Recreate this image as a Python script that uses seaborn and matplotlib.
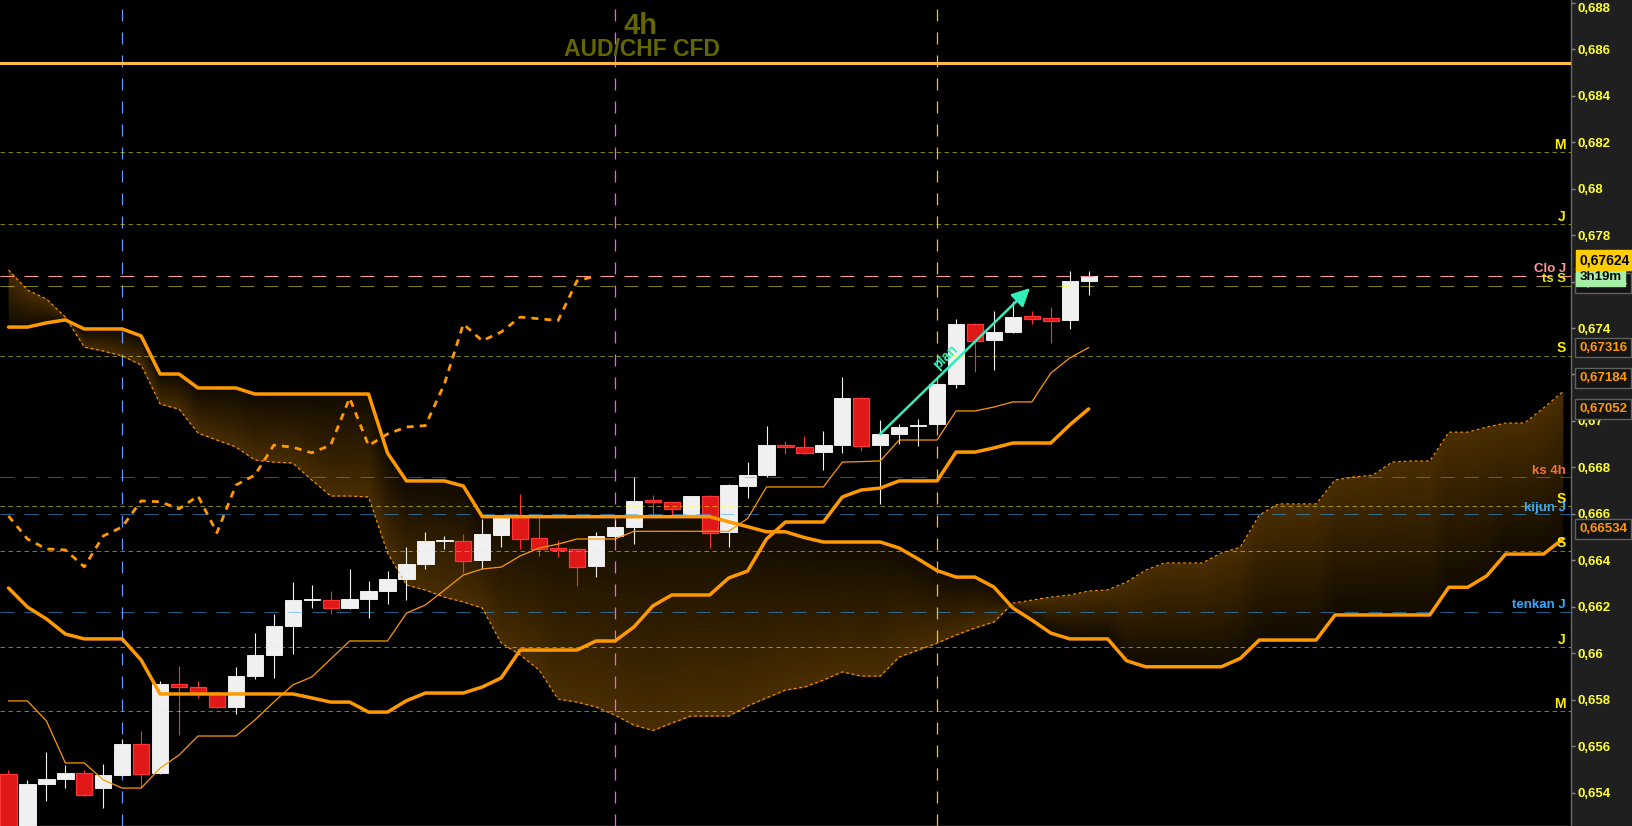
import numpy as np
import pandas as pd
import seaborn as sns
import matplotlib.pyplot as plt
import matplotlib.transforms as mtransforms

# 4h AUD/CHF candles, oldest first
opens = [0.65480, 0.65250, 0.65439, 0.65459, 0.65485, 0.65422, 0.65476, 0.65610, 0.65486, 0.65868,
         0.65855, 0.65830, 0.65770, 0.65902, 0.65993, 0.66117, 0.66229, 0.66229, 0.66196, 0.66234,
         0.66268, 0.66320, 0.66384, 0.66484, 0.66484, 0.66402, 0.66509, 0.66587, 0.66496, 0.66453,
         0.66449, 0.66376, 0.66505, 0.66544, 0.66660, 0.66651, 0.66600, 0.66677, 0.66523, 0.66720,
         0.66767, 0.66896, 0.66888, 0.66866, 0.66896, 0.67099, 0.66896, 0.66944, 0.66978, 0.66987,
         0.67159, 0.67417, 0.67348, 0.67383, 0.67452, 0.67443, 0.67435, 0.67603]
highs = [0.65498, 0.65455, 0.65575, 0.65519, 0.65498, 0.65524, 0.65631, 0.65666, 0.65881, 0.65945,
         0.65881, 0.65838, 0.65941, 0.66088, 0.66169, 0.66307, 0.66294, 0.66268, 0.66363, 0.66311,
         0.66354, 0.66458, 0.66523, 0.66505, 0.66514, 0.66578, 0.66591, 0.66686, 0.66587, 0.66488,
         0.66449, 0.66523, 0.66574, 0.66759, 0.66681, 0.66651, 0.66677, 0.66681, 0.66729, 0.66823,
         0.66978, 0.66914, 0.66935, 0.66957, 0.67189, 0.67103, 0.67004, 0.66987, 0.67008, 0.67159,
         0.67439, 0.67422, 0.67473, 0.67516, 0.67473, 0.67490, 0.67646, 0.67646]
lows = [0.65220, 0.65230, 0.65366, 0.65422, 0.65387, 0.65335, 0.65472, 0.65420, 0.65482, 0.65648,
        0.65809, 0.65765, 0.65740, 0.65889, 0.65894, 0.65997, 0.66195, 0.66169, 0.66191, 0.66152,
        0.66212, 0.66229, 0.66363, 0.66449, 0.66346, 0.66363, 0.66458, 0.66449, 0.66419, 0.66415,
        0.66290, 0.66329, 0.66488, 0.66471, 0.66600, 0.66596, 0.66596, 0.66455, 0.66459, 0.66668,
        0.66759, 0.66858, 0.66859, 0.66789, 0.66862, 0.66871, 0.66643, 0.66901, 0.66892, 0.66983,
        0.67142, 0.67211, 0.67220, 0.67378, 0.67417, 0.67337, 0.67396, 0.67543]
closes = [0.65240, 0.65437, 0.65459, 0.65485, 0.65391, 0.65476, 0.65610, 0.65482, 0.65868, 0.65855,
          0.65830, 0.65768, 0.65902, 0.65993, 0.66117, 0.66229, 0.66231, 0.66196, 0.66234, 0.66268,
          0.66320, 0.66384, 0.66484, 0.66486, 0.66399, 0.66514, 0.66591, 0.66492, 0.66449, 0.66445,
          0.66372, 0.66505, 0.66544, 0.66656, 0.66652, 0.66622, 0.66677, 0.66519, 0.66724, 0.66767,
          0.66896, 0.66887, 0.66863, 0.66896, 0.67099, 0.66894, 0.66944, 0.66974, 0.66980, 0.67159,
          0.67417, 0.67345, 0.67383, 0.67447, 0.67440, 0.67432, 0.67603, 0.67624]

# ichimoku lines
tenkan = [0.65795, 0.65795, 0.65709, 0.65528, 0.65528, 0.65455, 0.65420, 0.65420, 0.65506, 0.65562,
          0.65644, 0.65644, 0.65644, 0.65713, 0.65790, 0.65864, 0.65898, 0.65975, 0.66053, 0.66053,
          0.66053, 0.66173, 0.66208, 0.66272, 0.66337, 0.66363, 0.66371, 0.66419, 0.66453, 0.66470,
          0.66492, 0.66492, 0.66492, 0.66525, 0.66525, 0.66525, 0.66525, 0.66525, 0.66525, 0.66580,
          0.66716, 0.66716, 0.66716, 0.66716, 0.66823, 0.66825, 0.66828, 0.66918, 0.66918, 0.66918,
          0.67043, 0.67043, 0.67060, 0.67082, 0.67082, 0.67206, 0.67271, 0.67316]
kijun = [0.66281, 0.66199, 0.66148, 0.66083, 0.66062, 0.66062, 0.66062, 0.65971, 0.65825, 0.65825,
         0.65825, 0.65825, 0.65825, 0.65825, 0.65825, 0.65825, 0.65808, 0.65790, 0.65790, 0.65747,
         0.65747, 0.65796, 0.65829, 0.65829, 0.65829, 0.65855, 0.65894, 0.66014, 0.66014, 0.66014,
         0.66014, 0.66053, 0.66053, 0.66113, 0.66204, 0.66251, 0.66251, 0.66251, 0.66324, 0.66354,
         0.66492, 0.66565, 0.66565, 0.66565, 0.66673, 0.66703, 0.66711, 0.66742, 0.66742, 0.66742,
         0.66866, 0.66866, 0.66884, 0.66905, 0.66905, 0.66905, 0.66983, 0.67052]
# cloud spans, already projected forward
senkou_a = [0.67650, 0.67564, 0.67525, 0.67447, 0.67318, 0.67301, 0.67280, 0.67241, 0.67073, 0.67051,
            0.66948, 0.66918, 0.66888, 0.66832, 0.66823, 0.66819, 0.66746, 0.66677, 0.66677, 0.66673,
            0.66432, 0.66294, 0.66272, 0.66242, 0.66221, 0.66195, 0.66044, 0.65993, 0.65928, 0.65803,
            0.65790, 0.65769, 0.65734, 0.65691, 0.65668, 0.65700, 0.65730, 0.65730, 0.65730, 0.65773,
            0.65808, 0.65842, 0.65855, 0.65885, 0.65920, 0.65902, 0.65902, 0.65984, 0.66014, 0.66044,
            0.66079, 0.66109, 0.66135, 0.66216, 0.66229, 0.66242, 0.66251, 0.66268, 0.66273, 0.66307,
            0.66358, 0.66389, 0.66389, 0.66389, 0.66432, 0.66457, 0.66595, 0.66643, 0.66643, 0.66643,
            0.66746, 0.66759, 0.66767, 0.66823, 0.66828, 0.66828, 0.66952, 0.66952, 0.66974, 0.66991,
            0.66991, 0.67056, 0.67125]
senkou_b = [0.67404, 0.67404, 0.67422, 0.67435, 0.67396, 0.67396, 0.67396, 0.67366, 0.67202, 0.67202,
            0.67142, 0.67142, 0.67142, 0.67116, 0.67116, 0.67116, 0.67116, 0.67116, 0.67116, 0.67116,
            0.66862, 0.66742, 0.66742, 0.66742, 0.66720, 0.66588, 0.66588, 0.66588, 0.66588, 0.66588,
            0.66588, 0.66588, 0.66588, 0.66588, 0.66588, 0.66588, 0.66588, 0.66588, 0.66566, 0.66545,
            0.66523, 0.66523, 0.66498, 0.66479, 0.66479, 0.66479, 0.66479, 0.66453, 0.66406, 0.66356,
            0.66328, 0.66328, 0.66285, 0.66195, 0.66143, 0.66087, 0.66062, 0.66062, 0.66062, 0.65968,
            0.65942, 0.65942, 0.65942, 0.65942, 0.65942, 0.65978, 0.66057, 0.66057, 0.66057, 0.66057,
            0.66165, 0.66165, 0.66165, 0.66165, 0.66165, 0.66165, 0.66284, 0.66284, 0.66333, 0.66427,
            0.66427, 0.66427, 0.66491]
chikou_shift = 26

# pivot levels and reference lines
pivot_levels = [0.68156, 0.67846, 0.67280, 0.66633, 0.66440, 0.66026, 0.65750]
pivot_names = ['M', 'J', 'S', 'S', 'S', 'J', 'M']
ref_levels = [0.67624, 0.67581, 0.66757, 0.66598, 0.66178]
ref_names = ['Clo J', 'ts S', 'ks 4h', 'kijun J', 'tenkan J']
ref_line_colors = ['#ff9999', '#ffff00', '#ff7040', '#33aaff', '#33aaff']
ref_line_alpha = [1.0, 0.5, 0.5, 0.55, 0.55]
ref_text_colors = ['#ff9999', '#e6e600', '#f07040', '#33aaff', '#33aaff']
top_level = 0.68540

side_values = [0.67316, 0.67184, 0.67052, 0.66534]
last_price = 0.67624
time_left = '3h19m'
event_bars = [6, 32, 49]
event_colors = ['#6699ff', '#ff55ff', '#ffbb22']
plan_x = [46, 53.9]
plan_y = [0.66944, 0.67572]

ytick_values = np.round(np.arange(0.654, 0.6881, 0.002), 3)

sns.set_theme(style='dark', rc={'axes.facecolor': 'black', 'figure.facecolor': '#1f1f1f',
                                'axes.grid': False})
plt.rcParams['font.family'] = ['Liberation Sans', 'DejaVu Sans']

orange = '#ff9900'
fig = plt.figure(figsize=(16.33, 8.26), dpi=100)
ax = fig.add_axes([0, 0, 1571 / 1633, 1])

candles = pd.DataFrame({'o': opens, 'h': highs, 'l': lows, 'c': closes})
candles['bar'] = np.arange(len(candles))
up = candles['c'] >= candles['o']

# cloud with a gradient from span A (bright) to span B (dark)
xc = np.arange(len(senkou_a))
a = np.array(senkou_a)
b = np.array(senkou_b)
bright = np.array([0.29, 0.18, 0.0])
dark = np.array([0.07, 0.045, 0.0])
n = 40
for k in range(n):
    lo = a + (b - a) * k / n
    hi = a + (b - a) * (k + 1) / n
    t = (k + 0.5) / n
    col = bright * (1 - t) + dark * t
    ax.fill_between(xc, lo, hi, color=col, lw=0.5, ec=col, zorder=1)

# event verticals
for xb, col in zip(event_bars, event_colors):
    ln = ax.axvline(xb, color=col, lw=0.9, zorder=2)
    ln.set_dashes((9.6, 8.8))

# candles
wick_cols = np.where(up, '#f2f2f2', '#ff3030')
ax.vlines(candles['bar'], candles['l'], candles['h'], colors=wick_cols, lw=0.8, zorder=3)
body_lo = np.minimum(candles['o'], candles['c'])
body_h = np.maximum((candles['c'] - candles['o']).abs(), 0.00005)
ax.bar(candles['bar'][up], body_h[up], bottom=body_lo[up], width=0.86,
       color='#f0f0f0', edgecolor='#ffffff', lw=0.6, zorder=4)
ax.bar(candles['bar'][~up], body_h[~up], bottom=body_lo[~up], width=0.86,
       color='#e01818', edgecolor='#ff3535', lw=0.9, zorder=4)

# horizontal levels
ax.axhline(top_level, color='#ffbb44', lw=2.2, zorder=5)
for v in pivot_levels:
    ln = ax.axhline(v, color='#ffff00', alpha=0.5, lw=0.72, zorder=5)
    ln.set_dashes((4.5, 3.5))
for v, lc, la in zip(ref_levels, ref_line_colors, ref_line_alpha):
    ln = ax.axhline(v, color=lc, alpha=la, lw=0.72, zorder=5)
    ln.set_dashes((14, 10))

# ichimoku lines
cloud = pd.DataFrame({'bar': xc, 'span_a': senkou_a, 'span_b': senkou_b})
lines = pd.DataFrame({'bar': candles['bar'], 'tenkan': tenkan, 'kijun': kijun})
chikou = pd.DataFrame({'bar': np.arange(len(closes) - chikou_shift),
                       'lag': closes[chikou_shift:]})

sns.lineplot(data=cloud, x='bar', y='span_a', ax=ax, color=orange, lw=0.8, estimator=None, zorder=6)
ax.lines[-1].set_dashes((2.5, 2.5))
sns.lineplot(data=cloud, x='bar', y='span_b', ax=ax, color=orange, lw=2.5, estimator=None, zorder=6)
sns.lineplot(data=lines, x='bar', y='tenkan', ax=ax, color=orange, lw=0.9, estimator=None, zorder=6)
sns.lineplot(data=lines, x='bar', y='kijun', ax=ax, color=orange, lw=2.5, estimator=None, zorder=6)
sns.lineplot(data=chikou, x='bar', y='lag', ax=ax, color=orange, lw=2.0, estimator=None, zorder=6)
ax.lines[-1].set_dashes((2.5, 2.2))

ax.set_xlim(-0.4485, 82.45)
ax.set_ylim(0.652567, 0.688118)
ax.set_xlabel('')
ax.set_ylabel('')

# plan arrow
ax.annotate('', xy=(plan_x[1], plan_y[1]), xytext=(plan_x[0], plan_y[0]),
            arrowprops=dict(arrowstyle='-|>,head_length=0.9,head_width=0.45', color='#33eebb',
                            lw=1.8, mutation_scale=12, shrinkA=0, shrinkB=0), zorder=8)
p0 = ax.transData.transform((plan_x[0], plan_y[0]))
p1 = ax.transData.transform((plan_x[1], plan_y[1]))
ang = np.degrees(np.arctan2(p1[1] - p0[1], p1[0] - p0[0]))
ax.annotate('plan', xy=(np.mean(plan_x), np.mean(plan_y)), xytext=(-7, 3),
            textcoords='offset points', rotation=ang, rotation_mode='anchor',
            ha='center', va='center', color='#33eebb', fontsize=10, fontweight='bold', zorder=8)

# level labels
trans = mtransforms.blended_transform_factory(ax.transAxes, ax.transData)
for v, name in zip(pivot_levels, pivot_names):
    ax.annotate(name, xy=(0.9966, v), xycoords=trans, xytext=(0, 0.5), textcoords='offset points',
                ha='right', va='bottom', color='#ffee00', fontsize=10, fontweight='bold', zorder=9)
for v, name, tc in zip(ref_levels, ref_names, ref_text_colors):
    ax.annotate(name, xy=(0.9966, v), xycoords=trans, xytext=(0, 0.5), textcoords='offset points',
                ha='right', va='bottom', color=tc, fontsize=9.5, fontweight='bold', zorder=9)

# title
ax.text(0.408, 0.969, '4h', transform=ax.transAxes, ha='center', va='center',
        color='#666600', fontsize=21, fontweight='bold')
ax.text(0.4087, 0.9395, 'AUD/CHF CFD', transform=ax.transAxes, ha='center', va='center',
        color='#666600', fontsize=16.5, fontweight='bold')

# price axis on the right
ax.set_yticks(ytick_values)
ax.set_yticklabels([f'{v:.3f}'.rstrip('0').replace('.', ',') for v in ytick_values])
ax.tick_params(axis='y', which='both', left=False, labelleft=False, right=True, labelright=True,
               length=3, width=1, color='#8a8a8a', labelcolor='#ffff33', labelsize=9.5, pad=2)
ax.tick_params(axis='x', bottom=False, labelbottom=False)
for lbl in ax.get_yticklabels():
    lbl.set_fontweight('bold')
ax.get_yticklabels()[-1].set_va('top')
for s in ['top', 'left']:
    ax.spines[s].set_visible(False)
for s in ['right', 'bottom']:
    ax.spines[s].set_color('#6a6a6a')
    ax.spines[s].set_linewidth(1)

box_kw = dict(xycoords=trans, textcoords='offset points', ha='left', va='center',
              fontweight='bold', annotation_clip=False, zorder=10)
for v in side_values:
    ax.annotate(f'{v:.5f}'.replace('.', ','), xy=(1, v), xytext=(6, 0), color=orange, fontsize=9.5,
                bbox=dict(boxstyle='square,pad=0.3', fc='#141414', ec='#606060', lw=1), **box_kw)
ax.annotate(f'{last_price:.5f}'.replace('.', ','), xy=(1, last_price), xytext=(6, -5), color=orange,
            fontsize=9.5, bbox=dict(boxstyle='square,pad=0.3', fc='#141414', ec='#606060', lw=1), **box_kw)
ax.annotate(time_left, xy=(1, last_price), xytext=(6, -0.5), color='black', fontsize=9.5,
            bbox=dict(boxstyle='square,pad=0.25', fc='#a6eea6', ec='#a6eea6', lw=1), **box_kw)
ax.annotate(f'{last_price:.5f}'.replace('.', ','), xy=(1, last_price), xytext=(6, 11.5), color='black',
            fontsize=10, bbox=dict(boxstyle='square,pad=0.25', fc='#ffcc00', ec='#ffcc00', lw=1), **box_kw)

fig.savefig('out.png', dpi=100, facecolor=fig.get_facecolor())
